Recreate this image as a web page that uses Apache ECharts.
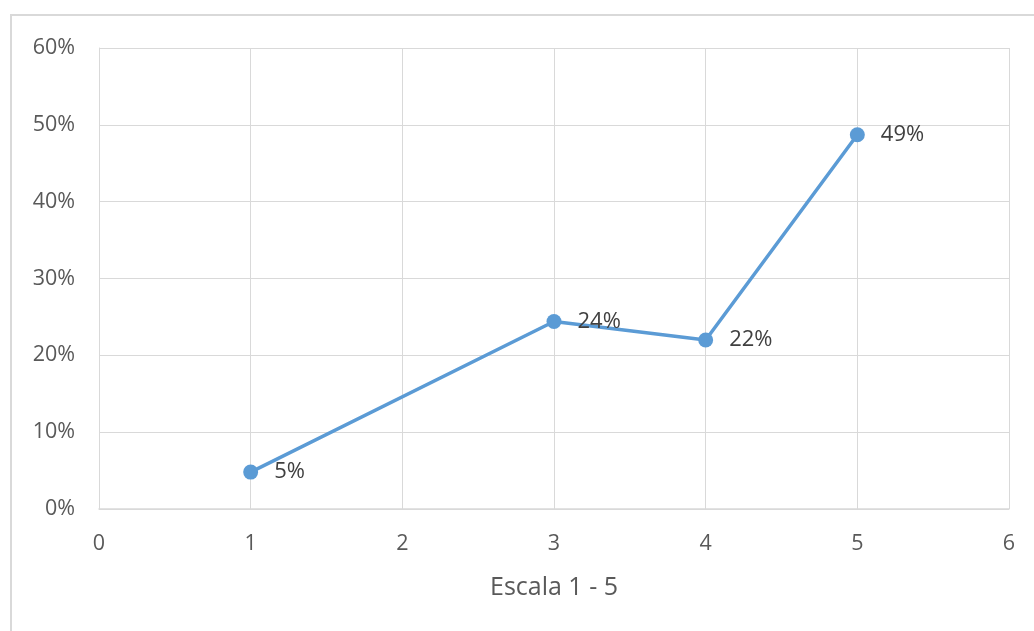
<!DOCTYPE html>
<html>
<head>
<meta charset="utf-8">
<script src="https://cdn.jsdelivr.net/npm/echarts@6/dist/echarts.min.js"></script>
<style>
    html, body { margin: 0; padding: 0; background: #fff; }
    #chart { width: 1034px; height: 631px; }
</style>
</head>
<body>
<div id="chart"></div>
<script>
// 数据
const escala = [1, 3, 4, 5]
const porcentaje = [4.8, 24.4, 22.0, 48.7]
const xTicks = [0, 1, 2, 3, 4, 5, 6]
const yTicks = [0, 10, 20, 30, 40, 50, 60]

;(function () {
    const el = document.getElementById("chart")
    const chart = echarts.init(el)
    const font = "'Open Sans', 'Noto Sans', sans-serif"
    const option = {
        animation: false,
        // 外框
        graphic: [
            {
                type: 'rect',
                shape: { x: 11, y: 15, width: 1060, height: 660 },
                style: { fill: 'none', stroke: '#d9d9d9', lineWidth: 2 }
            }
        ],
        grid: {
            left: 99,
            right: 25,
            top: 48,
            bottom: 122
        },
        xAxis: {
            type: 'value',
            min: xTicks[0],
            max: xTicks[xTicks.length - 1],
            interval: 1,
            name: 'Escala 1 - 5',
            nameLocation: 'middle',
            nameGap: 66,
            nameTextStyle: { color: '#595959', fontSize: 25, fontFamily: font },
            axisLine: { show: true, lineStyle: { color: '#d9d9d9', width: 1.5 } },
            axisTick: { show: false },
            axisLabel: { color: '#595959', fontSize: 21.5, fontFamily: font, margin: 24 },
            splitLine: { show: true, lineStyle: { color: '#d9d9d9', width: 1 } }
        },
        yAxis: {
            type: 'value',
            min: yTicks[0],
            max: yTicks[yTicks.length - 1],
            interval: 10,
            axisLine: { show: true, lineStyle: { color: '#d9d9d9', width: 1 } },
            axisTick: { show: false },
            axisLabel: {
                color: '#595959',
                fontSize: 21.5,
                fontFamily: font,
                margin: 24,
                formatter: '{value}%'
            },
            splitLine: { show: true, lineStyle: { color: '#d9d9d9', width: 1 } }
        },
        series: [
            {
                type: 'line',
                data: escala.map((x, i) => [x, porcentaje[i]]),
                symbol: 'circle',
                symbolSize: 15,
                lineStyle: { color: '#5b9bd5', width: 3.5 },
                itemStyle: { color: '#5b9bd5' },
                label: {
                    show: true,
                    position: 'right',
                    distance: 16,
                    color: '#404040',
                    fontSize: 22,
                    fontFamily: font,
                    formatter: p => Math.round(p.value[1]) + '%'
                }
            }
        ]
    }
    chart.setOption(option)
    window.addEventListener("resize", () => {
        chart.resize()
    })
})()
</script>
</body>
</html>
